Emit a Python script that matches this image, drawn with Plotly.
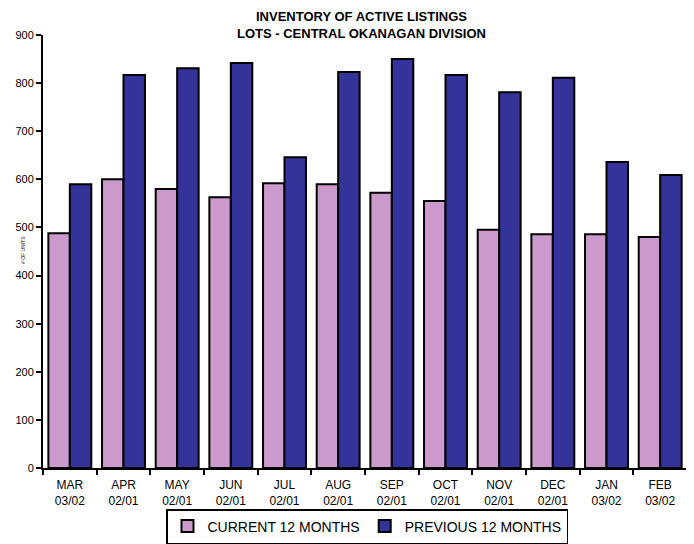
import plotly.graph_objects as go

months = ["MAR<br>03/02", "APR<br>02/01", "MAY<br>02/01", "JUN<br>02/01", "JUL<br>02/01", "AUG<br>02/01",
          "SEP<br>02/01", "OCT<br>02/01", "NOV<br>02/01", "DEC<br>02/01", "JAN<br>03/02", "FEB<br>03/02"]
current_12 = [488, 600, 580, 563, 592, 590, 572, 555, 495, 486, 486, 480]
previous_12 = [590, 817, 831, 842, 646, 823, 850, 817, 781, 811, 636, 609]
y_ticks = [0, 100, 200, 300, 400, 500, 600, 700, 800, 900]

font = "Liberation Sans, Arial, sans-serif"

# page body has an 8px margin, so the figure is drawn at (8, 8)
W, H = 686, 536
L, T, R, B = 35, 27, 7, 76
PW, PH = W - L - R, H - T - B

fig = go.Figure()
fig.add_trace(go.Bar(x=months, y=current_12, name="CURRENT 12 MONTHS",
                     marker=dict(color="#CC99CC", line=dict(color="black", width=2))))
fig.add_trace(go.Bar(x=months, y=previous_12, name="PREVIOUS 12 MONTHS",
                     marker=dict(color="#333399", line=dict(color="black", width=2))))

fig.update_layout(
    width=W, height=H,
    margin=dict(l=L, r=R, t=T, b=B, autoexpand=False),
    paper_bgcolor="white", plot_bgcolor="white",
    barmode="group", bargap=0.2, bargroupgap=0,
    font=dict(family=font, size=11, color="black"),
    annotations=[
        dict(text="<b>INVENTORY OF ACTIVE LISTINGS<br>LOTS - CENTRAL OKANAGAN DIVISION</b>",
             x=(361 - 8 - L) / PW, xref="paper", y=1.0 + T / PH, yref="paper",
             showarrow=False, xanchor="center", yanchor="top", borderpad=0,
             font=dict(family=font, size=13, color="black")),
        dict(text="# OF UNITS", textangle=-90, x=(23 - 8 - L) / PW, xref="paper",
             y=(468 - 250) / 433.0, yref="paper", showarrow=False,
             xanchor="center", yanchor="middle", font=dict(family=font, size=5, color="black")),
    ],
    legend=dict(orientation="h", x=(367 - 8) / W, xanchor="center", xref="container",
                y=0.0, yanchor="bottom", yref="container",
                bordercolor="black", borderwidth=1.5, bgcolor="white",
                font=dict(family=font, size=14), traceorder="normal"),
    showlegend=True,
)
fig.update_xaxes(showline=True, linecolor="black", linewidth=2, ticks="outside",
                 tickson="boundaries", ticklen=5, tickwidth=2, tickcolor="black",
                 showgrid=False, tickfont=dict(size=12), mirror=False, ticklabelstandoff=5)
fig.update_yaxes(range=[0, 900], tickvals=y_ticks, showline=True, linecolor="black", linewidth=2,
                 ticks="outside", ticklen=5, tickwidth=2, tickcolor="black", showgrid=False,
                 zeroline=False, tickfont=dict(size=11))

fig.write_html("out.html")
